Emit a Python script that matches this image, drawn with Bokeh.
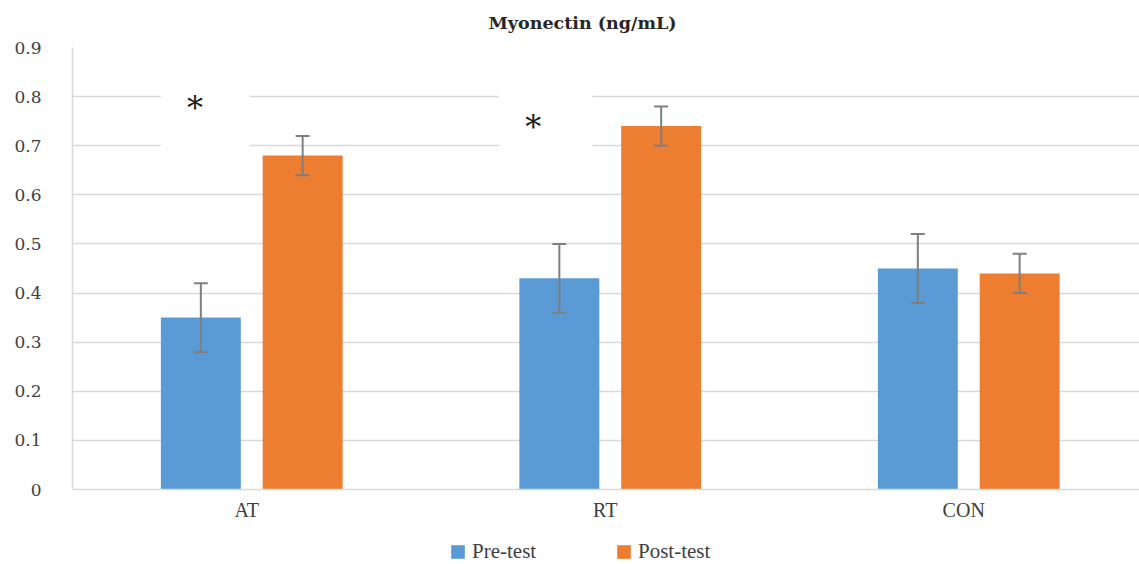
from bokeh.plotting import figure
from bokeh.layouts import column
from bokeh.models import (ColumnDataSource, Range1d, FixedTicker, Whisker, TeeHead,
                          Legend, LegendItem)
from bokeh.embed import file_html
from bokeh.resources import INLINE
from bokeh.core.properties import value

# ---- data ----
categories = ["AT", "RT", "CON"]
series_names = ["Pre-test", "Post-test"]
pre_test = [0.35, 0.43, 0.45]
post_test = [0.68, 0.74, 0.44]
pre_sd = [0.07, 0.07, 0.07]
post_sd = [0.04, 0.04, 0.04]
y_ticks = [0, 0.1, 0.2, 0.3, 0.4, 0.5, 0.6, 0.7, 0.8, 0.9]
title_text = "Myonectin (ng/mL)"
sig_categories = ["AT", "RT"]
sig_marks = ["*", "*"]

# ---- layout / style constants ----
PRE_COLOR = "#5B9BD5"
POST_COLOR = "#ED7D31"
GRID = "#D9D9D9"
ERR = "#7F7F7F"
OFFSET = 0.142
BAR_W = 0.223
LABEL_SHIFT = -0.014
sig_dx = [-0.158, -0.215]
sig_y = [0.776, 0.739]
box_dx0 = [-0.254, -0.31]
box_dx1 = [-0.006, -0.05]

centers = [i + 0.5 for i in range(len(categories))]
pre_x = [c - OFFSET for c in centers]
post_x = [c + OFFSET for c in centers]
label_pos = [c + LABEL_SHIFT for c in centers]

pre_src = ColumnDataSource(dict(x=pre_x, top=pre_test,
                                upper=[v + e for v, e in zip(pre_test, pre_sd)],
                                lower=[v - e for v, e in zip(pre_test, pre_sd)]))
post_src = ColumnDataSource(dict(x=post_x, top=post_test,
                                 upper=[v + e for v, e in zip(post_test, post_sd)],
                                 lower=[v - e for v, e in zip(post_test, post_sd)]))

W, H = 1139, 532
LEG_H = 32
FL, FT, FB = 72, 47, 489
p = figure(width=W, height=H, output_backend="svg", toolbar_location=None,
           x_range=Range1d(0, (W - FL) / 358.5), y_range=Range1d(0, 0.9),
           min_border_left=FL, min_border_right=0, min_border_top=FT,
           min_border_bottom=H - FB)
p.outline_line_color = None
p.background_fill_color = "white"
p.border_fill_color = "white"

p.title.text = title_text
p.title.text_font = "DejaVu Serif"
p.title.text_font_style = "bold"
p.title.text_font_size = "17.5px"
p.title.text_color = "#262626"
p.title.align = "left"
p.title.offset = 416
p.title.vertical_align = "top"
p.title.standoff = 25

# axes
p.xaxis.ticker = FixedTicker(ticks=label_pos)
p.xaxis.major_label_overrides = {c: n for c, n in zip(label_pos, categories)}
p.xaxis.major_tick_line_color = None
p.xaxis.minor_tick_line_color = None
p.xaxis.axis_line_color = GRID
p.xaxis.axis_line_width = 1.5
p.xaxis.major_label_text_font = "Liberation Serif"
p.xaxis.major_label_text_font_size = "20px"
p.xaxis.major_label_text_color = "#404040"
p.xaxis.major_label_standoff = 3

p.yaxis.ticker = FixedTicker(ticks=y_ticks)
p.yaxis.major_label_overrides = {t: f"{t:g}" for t in y_ticks}
p.yaxis.major_tick_line_color = None
p.yaxis.minor_tick_line_color = None
p.yaxis.axis_line_color = GRID
p.yaxis.axis_line_width = 1.5
p.yaxis.major_label_text_font = "DejaVu Serif"
p.yaxis.major_label_text_font_size = "17px"
p.yaxis.major_label_text_color = "#404040"
p.yaxis.major_label_standoff = 25

p.xgrid.grid_line_color = None
p.ygrid.grid_line_color = GRID
p.ygrid.grid_line_width = 1.5

# bars
p.vbar(x="x", top="top", width=BAR_W, source=pre_src, fill_color=PRE_COLOR,
       line_color=None)
p.vbar(x="x", top="top", width=BAR_W, source=post_src, fill_color=POST_COLOR,
       line_color=None)

for src in (pre_src, post_src):
    w = Whisker(source=src, base="x", upper="upper", lower="lower",
                line_color=ERR, line_width=2,
                upper_head=TeeHead(size=14, line_color=ERR, line_width=2),
                lower_head=TeeHead(size=14, line_color=ERR, line_width=2))
    w.level = "annotation"
    p.add_layout(w)

# significance text boxes (white fill hides gridlines like the original)
sig_c = [centers[categories.index(c)] for c in sig_categories]
p.quad(left=[c + d for c, d in zip(sig_c, box_dx0)],
       right=[c + d for c, d in zip(sig_c, box_dx1)],
       bottom=[0.63] * len(sig_c), top=[0.87] * len(sig_c),
       fill_color="white", line_color=None)
p.text(x=[c + d for c, d in zip(sig_c, sig_dx)], y=sig_y, text=sig_marks,
       text_font=value("DejaVu Serif"), text_font_size="32px",
       text_align="center", text_baseline="middle", text_color="#1a1a1a")

# ---- legend strip (separate small figure so it is not clipped) ----
lg = figure(width=W, height=LEG_H, output_backend="svg", toolbar_location=None,
            x_range=Range1d(0, 1), y_range=Range1d(0, 1),
            min_border=0, min_border_left=0, min_border_right=0,
            min_border_top=0, min_border_bottom=0)
lg.outline_line_color = None
lg.xaxis.visible = False
lg.yaxis.visible = False
lg.grid.visible = False
lg.border_fill_color = "white"
lg.background_fill_color = "white"
key_src = ColumnDataSource(dict(x=[-1.0], top=[0.0]))  # swatch source, off-range
l_pre = lg.vbar(x="x", top="top", width=0.1, source=key_src, fill_color=PRE_COLOR,
                line_color=None)
l_post = lg.vbar(x="x", top="top", width=0.1, source=key_src, fill_color=POST_COLOR,
                 line_color=None)
legend = Legend(items=[LegendItem(label=series_names[0], renderers=[l_pre]),
                       LegendItem(label=series_names[1], renderers=[l_post])],
                orientation="horizontal", location=(449 - FL, 0),
                glyph_width=17, glyph_height=17, label_standoff=6,
                label_width=67, label_height=17, spacing=76, padding=0, margin=0,
                border_line_color=None, background_fill_alpha=0,
                label_text_font="Liberation Serif", label_text_font_size="21px",
                label_text_color="#404040")
lg.add_layout(legend, "center")

layout = column(p, lg, spacing=0)
open("out.html", "w").write(file_html(layout, INLINE))
